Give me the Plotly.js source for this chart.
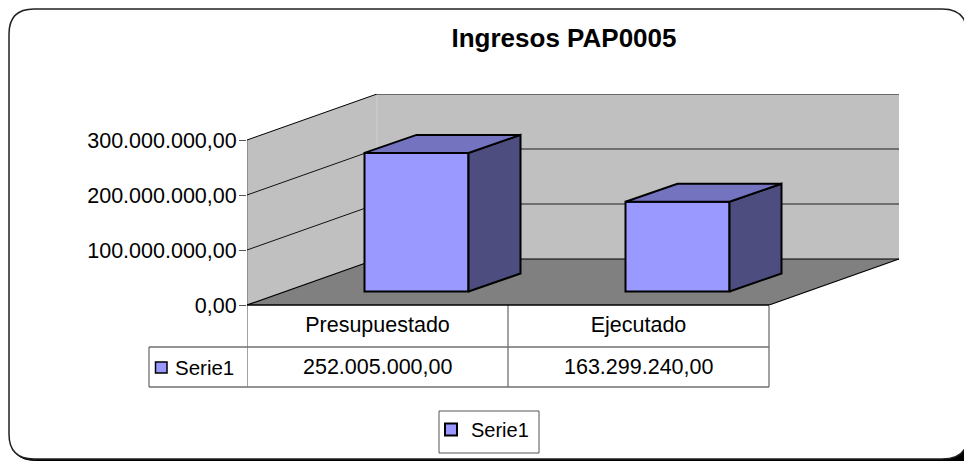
<!DOCTYPE html>
<html><head><meta charset="utf-8">
<script src="https://cdn.plot.ly/plotly-3.0.1.min.js"></script>
<style>html,body{margin:0;padding:0;background:#fff}#c{width:964px;height:461px}</style>
</head><body><div id="c"></div>
<script>
const categories = ["Presupuestado", "Ejecutado"];
const seriesName = "Serie1";
const values = [252005000, 163299240];
const tickValues = [0, 100000000, 200000000, 300000000];
const chartTitle = "Ingresos PAP0005";

const W = 964, H = 461;
const font = "Liberation Sans, Arial, sans-serif";
const textSize = 21.5, labelSize = 20.5, ink = "#000";
const px = x => x / W, py = y => 1 - y / H;
// oblique projection in axis units
const unitX = 261, unitY = 55 / 1e8;
const wallDX = 130 / unitX, wallDY = 46 / unitY;
const barDX = 52 / unitX, barDY = 18 / unitY;
const barW = 104 / unitX;
const barShift = 39 / unitX, barBase = 13.5 / unitY;
const xMin = -0.5, xFloor = 1.5;
const wallTop = tickValues[tickValues.length - 1];
const xs = categories.map((_, i) => i);
const fmt = v => v.toFixed(2).replace(".", ",").replace(/\B(?=(\d{3})+(?!\d))/g, ".");

const front = {
  type: "bar", name: seriesName, x: xs.map(i => i + barShift), y: values, base: values.map(() => barBase),
  width: barW, marker: {color: "#9999ff", line: {color: "#000", width: 2}}, hoverinfo: "skip"
};
const face = (i, v, kind) => {
  const l = i + barShift - barW / 2, r = l + barW, t = barBase + v, b = barBase;
  if (kind === "top") return {x: [l, r, r + barDX, l + barDX, l], y: [t, t, t + barDY, t + barDY, t]};
  return {x: [r, r + barDX, r + barDX, r, r], y: [b, b + barDY, t + barDY, t, b]};
};
const faceTrace = (i, v, kind, color) => Object.assign(face(i, v, kind), {
  type: "scatter", mode: "lines", fill: "toself", fillcolor: color,
  line: {color: "#000", width: 2}, showlegend: false, hoverinfo: "skip"
});
const traces = [front];
values.forEach((v, i) => {
  traces.push(faceTrace(i, v, "side", "#4d4d7f"));
  traces.push(faceTrace(i, v, "top", "#7373bf"));
});

const poly = (pts, fill, lineColor, lw) => ({
  type: "path", xref: "x", yref: "y", layer: "below",
  path: pts.map((p, i) => (i ? "L" : "M") + p[0] + "," + p[1]).join(" ") + " Z",
  fillcolor: fill, line: {color: lineColor || fill, width: lw === undefined ? 0 : lw}
});
const seg = (x0, y0, x1, y1, color, w, refs, layer) => Object.assign({
  type: "line", x0, y0, x1, y1, line: {color, width: w}, layer: layer || "below"
}, refs || {xref: "x", yref: "y"});
const P = {xref: "paper", yref: "paper"}, XP = {xref: "x", yref: "paper"};
const pp = (x, y) => px(x).toFixed(5) + "," + py(y).toFixed(5);
const boxPath = (o) => "M" + pp(9 + o, 34 + o) + " Q" + pp(9 + o, 9 + o) + " " + pp(34 + o, 9 + o) +
  " L" + pp(942, 9 + o) + " Q" + pp(967, 9 + o) + " " + pp(967, 34 + o) +
  " L" + pp(967, 444) + " Q" + pp(962, 459 + o) + " " + pp(942, 459 + o) +
  " L" + pp(34 + o, 459 + o) + " Q" + pp(9 + o, 459 + o) + " " + pp(9 + o, 434 + o) + " Z";

const shapes = [
  {type: "path", ...P, layer: "below", path: boxPath(1.5), fillcolor: "#000", line: {color: "#000", width: 1}},
  {type: "rect", ...P, layer: "below", x0: px(936), x1: 1, y0: py(442), y1: 0, fillcolor: "#000", line: {width: 0}},
  {type: "path", ...P, layer: "below", path: boxPath(0), fillcolor: "#fff", line: {color: "#222", width: 1.5}},
  poly([[xMin, 0], [xMin + wallDX, wallDY], [xMin + wallDX, wallTop + wallDY], [xMin, wallTop]], "#c0c0c0"),
  poly([[xMin + wallDX, wallDY], [xFloor + wallDX, wallDY], [xFloor + wallDX, wallTop + wallDY], [xMin + wallDX, wallTop + wallDY]], "#c0c0c0"),
  poly([[xMin, 0], [xFloor, 0], [xFloor + wallDX, wallDY], [xMin + wallDX, wallDY]], "#808080"),
  seg(xMin + wallDX, wallDY, xMin + wallDX, wallTop + wallDY, "#cfcfcf", 1),
  seg(xMin, 0, xMin, wallTop, "#808080", 1.5),
  seg(xMin, 0, xMin + wallDX, wallDY, "#000", 1.2),
  seg(xMin + wallDX, wallDY, xFloor + wallDX, wallDY, "#000", 1.2),
  seg(xFloor, 0, xFloor + wallDX, wallDY, "#000", 1.2),
  seg(xMin, wallTop, xMin + wallDX, wallTop + wallDY, "#000", 1),
  seg(xMin + wallDX, wallTop + wallDY, xFloor + wallDX, wallTop + wallDY, "#111", 1)
];
tickValues.slice(1, -1).forEach(t => {
  shapes.push(seg(xMin, t, xMin + wallDX, t + wallDY, "#111", 1));
  shapes.push(seg(xMin + wallDX, t + wallDY, xFloor + wallDX, t + wallDY, "#555", 1.5));
});
// data table
const rowTop = 305, rowMid = 347, rowBot = 387, tableLeft = 149;
[xMin, xMin + 1, xFloor].forEach(x => shapes.push(seg(x, py(rowTop), x, py(rowBot), "#707070", 1.3, XP)));
shapes.push(seg(xMin, py(rowTop), xFloor, py(rowTop), "#000", 1.5, XP, "above"));
shapes.push(seg(px(tableLeft), py(rowMid), px(769), py(rowMid), "#707070", 1.3, P));
shapes.push(seg(px(tableLeft), py(rowBot), px(769), py(rowBot), "#707070", 1.3, P));
shapes.push(seg(px(tableLeft), py(rowMid), px(tableLeft), py(rowBot), "#707070", 1.3, P));
shapes.push({type: "rect", ...P, x0: px(155.5), x1: px(167), y0: py(373), y1: py(362), fillcolor: "#9999ff", line: {color: "#000", width: 1.5}});
// legend frame
shapes.push({type: "rect", ...P, x0: px(439), x1: px(539), y0: py(453), y1: py(411), line: {color: "#555", width: 1}});

const annotations = values.map((v, i) => ({
  xref: "x", yref: "paper", x: i, y: py(367), text: fmt(v), showarrow: false,
  xanchor: "center", yanchor: "middle", font: {family: font, size: textSize, color: ink}
}));
annotations.push({xref: "paper", yref: "paper", x: px(175), y: py(367), text: seriesName, showarrow: false,
  xanchor: "left", yanchor: "middle", xshift: -2, font: {family: font, size: labelSize, color: ink}});

const layout = {
  width: W, height: H, margin: {l: 0, r: 0, t: 0, b: 0}, paper_bgcolor: "#fff", plot_bgcolor: "rgba(0,0,0,0)",
  font: {family: font, color: ink},
  title: {text: "<b>" + chartTitle + "</b>", x: px(564), xanchor: "center", xref: "paper", y: py(38), yref: "paper", yanchor: "middle",
    font: {family: font, size: 26, color: "#000"}},
  barmode: "overlay",
  xaxis: {domain: [px(247), px(900)], range: [xMin, xMin + 653 / unitX], tickmode: "array", tickvals: xs, ticktext: categories,
    showgrid: false, zeroline: false, showline: false, ticks: "", tickfont: {family: font, size: textSize, color: ink}, ticklabelstandoff: 4, fixedrange: true},
  yaxis: {domain: [py(305), py(94)], range: [0, 211 / unitY], tickmode: "array", tickvals: tickValues, ticktext: tickValues.map(fmt),
    showgrid: false, zeroline: false, showline: false, ticks: "outside", ticklen: 7, tickcolor: "#555", tickwidth: 1, ticklabelstandoff: -2,
    tickfont: {family: font, size: textSize, color: ink}, fixedrange: true},
  showlegend: true,
  legend: {x: px(431), xanchor: "left", y: py(410), yanchor: "top", bgcolor: "rgba(0,0,0,0)", borderwidth: 0,
    font: {family: font, size: 20, color: ink}},
  shapes, annotations
};
Plotly.newPlot("c", traces, layout, {displayModeBar: false, staticPlot: true});
</script></body></html>
